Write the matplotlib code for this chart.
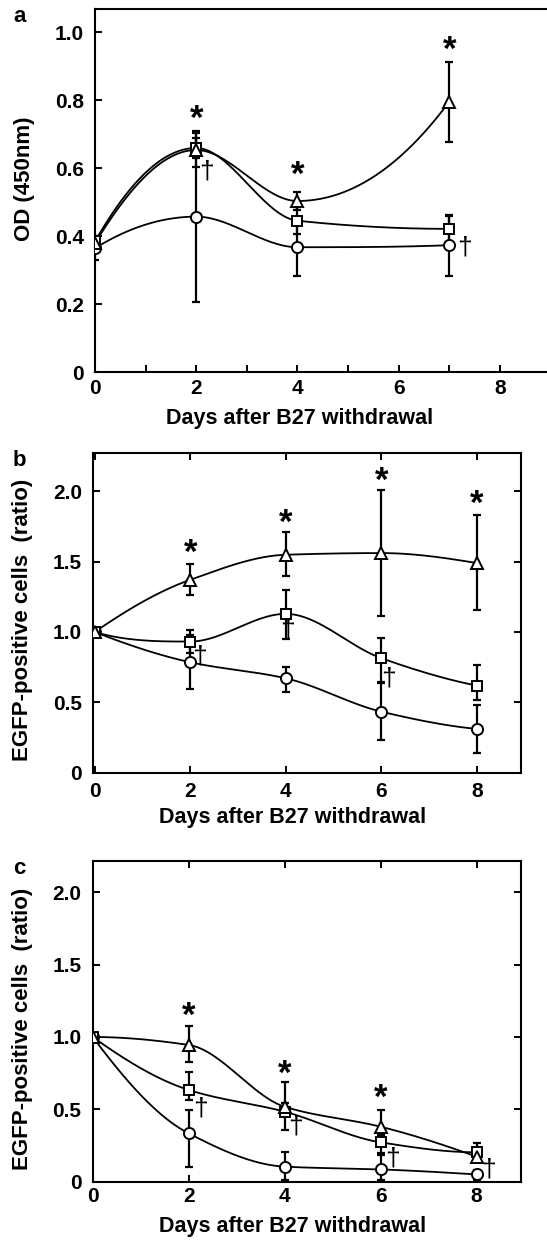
import numpy as np
import matplotlib
matplotlib.use("Agg")
import matplotlib.pyplot as plt
from matplotlib.ticker import FixedLocator

plt.rcParams['font.family'] = ['Liberation Sans', 'DejaVu Sans']
plt.rcParams['font.weight'] = 'bold'

# ---------------- data ----------------
# Panel a: OD (450nm)
a_days = [0, 2, 4, 7]
a_circle = [0.365, 0.458, 0.368, 0.374]
a_circle_lo = [0.035, 0.252, 0.084, 0.090]
a_circle_hi = [0.035, 0.252, 0.084, 0.090]
a_square = [0.385, 0.660, 0.446, 0.422]
a_square_lo = [0.015, 0.030, 0.040, 0.038]
a_square_hi = [0.015, 0.030, 0.040, 0.038]
a_tri = [0.380, 0.654, 0.504, 0.796]
a_tri_lo = [0.015, 0.049, 0.027, 0.118]
a_tri_hi = [0.015, 0.049, 0.027, 0.116]
a_star_x = [2, 4, 7]
a_star_y = [0.745, 0.578, 0.948]
a_dag_x = [2.21, 7.31]
a_dag_y = [0.590, 0.368]

# Panel b: EGFP-positive cells (ratio)
b_days = [0, 2, 4, 6, 8]
b_circle = [1.0, 0.785, 0.671, 0.434, 0.311]
b_circle_lo = [0.0, 0.192, 0.094, 0.202, 0.173]
b_circle_hi = [0.0, 0.192, 0.083, 0.202, 0.173]
b_square = [1.0, 0.932, 1.129, 0.814, 0.619]
b_square_lo = [0.0, 0.083, 0.178, 0.166, 0.102]
b_square_hi = [0.0, 0.083, 0.171, 0.140, 0.147]
b_tri = [1.0, 1.371, 1.549, 1.561, 1.490]
b_tri_lo = [0.0, 0.111, 0.154, 0.446, 0.337]
b_tri_hi = [0.0, 0.112, 0.159, 0.451, 0.344]
b_star_x = [2, 4, 6, 8]
b_star_y = [1.556, 1.775, 2.070, 1.905]
b_dag_x = [2.19, 4.03, 6.16]
b_dag_y = [0.826, 1.015, 0.671]

# Panel c: EGFP-positive cells (ratio)
c_days = [0, 2, 4, 6, 8]
c_circle = [1.0, 0.334, 0.104, 0.085, 0.050]
c_circle_lo = [0.0, 0.230, 0.090, 0.070, 0.040]
c_circle_hi = [0.0, 0.162, 0.103, 0.100, 0.030]
c_square = [1.0, 0.634, 0.484, 0.272, 0.203]
c_square_lo = [0.0, 0.069, 0.127, 0.076, 0.030]
c_square_hi = [0.0, 0.126, 0.060, 0.050, 0.062]
c_tri = [1.0, 0.945, 0.518, 0.380, 0.173]
c_tri_lo = [0.0, 0.115, 0.060, 0.050, 0.030]
c_tri_hi = [0.0, 0.131, 0.172, 0.115, 0.030]
c_star_x = [2, 4, 6]
c_star_y = [1.140, 0.742, 0.576]
c_dag_x = [2.24, 4.22, 6.24, 8.25]
c_dag_y = [0.507, 0.380, 0.161, 0.081]

x_label = "Days after B27 withdrawal"
a_ylabel = "OD (450nm)"
bc_ylabel = "EGFP-positive cells  (ratio)"


def pchip_curve(x, y, n=300):
    """Monotone piecewise cubic Hermite (Fritsch-Carlson) through the points."""
    x = np.asarray(x, float)
    y = np.asarray(y, float)
    h = np.diff(x)
    delta = np.diff(y) / h
    k = len(x)
    d = np.zeros(k)
    for i in range(1, k - 1):
        if delta[i - 1] * delta[i] <= 0:
            d[i] = 0.0
        else:
            w1 = 2 * h[i] + h[i - 1]
            w2 = h[i] + 2 * h[i - 1]
            d[i] = (w1 + w2) / (w1 / delta[i - 1] + w2 / delta[i])

    def end(h0, h1, m0, m1):
        dd = ((2 * h0 + h1) * m0 - h0 * m1) / (h0 + h1)
        if np.sign(dd) != np.sign(m0):
            dd = 0.0
        elif np.sign(m0) != np.sign(m1) and abs(dd) > abs(3 * m0):
            dd = 3 * m0
        return dd

    d[0] = end(h[0], h[1], delta[0], delta[1])
    d[-1] = end(h[-1], h[-2], delta[-1], delta[-2])
    xs = np.linspace(x[0], x[-1], n)
    idx = np.clip(np.searchsorted(x, xs) - 1, 0, k - 2)
    t = (xs - x[idx]) / h[idx]
    h00 = 2 * t ** 3 - 3 * t ** 2 + 1
    h10 = t ** 3 - 2 * t ** 2 + t
    h01 = -2 * t ** 3 + 3 * t ** 2
    h11 = t ** 3 - t ** 2
    ys = h00 * y[idx] + h10 * h[idx] * d[idx] + h01 * y[idx + 1] + h11 * h[idx] * d[idx + 1]
    return xs, ys


W, H = 547, 1242
fig = plt.figure(figsize=(W / 100, H / 100), dpi=100)


def add_axes(left, right, top, bottom):
    return fig.add_axes([left / W, 1 - bottom / H, (right - left) / W, (bottom - top) / H])


def draw_series(ax, x, y, lo, hi, marker, ms):
    xs, ys = pchip_curve(x, y)
    ax.plot(xs, ys, color='black', lw=1.3, zorder=2, solid_capstyle='butt')
    ax.errorbar(x, y, yerr=[lo, hi], fmt='none', ecolor='black', elinewidth=1.6,
                capsize=2.8, capthick=1.6, zorder=2)
    ax.plot(x, y, linestyle='none', marker=marker, ms=ms, mfc='white', mec='black',
            mew=1.4, zorder=3)


def annotate(ax, sx, sy, dx, dy):
    for xx, yy in zip(sx, sy):
        ax.text(xx, yy, '*', ha='center', va='center', fontsize=25, fontweight='bold', zorder=4)
    for xx, yy in zip(dx, dy):
        ax.text(xx, yy, '\u2020', ha='center', va='center', fontsize=19, fontweight='normal', zorder=4)


def style(ax):
    for s in ax.spines.values():
        s.set_linewidth(1.5)


TICK_FS = 15
XLAB_FS = 15.5
YLAB_FS = 16

# ---------------- panel a ----------------
ax = add_axes(95, 95 + 9 * 50.6, 9.3, 372.3)
ax.set_xlim(0, 9)
ax.set_ylim(0, 1.068)
style(ax)
draw_series(ax, a_days, a_circle, a_circle_lo, a_circle_hi, 'o', 8)
draw_series(ax, a_days, a_square, a_square_lo, a_square_hi, 's', 7.5)
draw_series(ax, a_days, a_tri, a_tri_lo, a_tri_hi, '^', 9)
annotate(ax, a_star_x, a_star_y, a_dag_x, a_dag_y)
ax.xaxis.set_major_locator(FixedLocator([0, 2, 4, 6, 8]))
ax.xaxis.set_minor_locator(FixedLocator([1, 3, 5, 7]))
ax.set_xticklabels(['0', '2', '4', '6', '8'])
ax.set_yticks([0, 0.2, 0.4, 0.6, 0.8, 1.0])
ax.set_yticklabels(['0', '0.2', '0.4', '0.6', '0.8', '1.0'])
ax.tick_params(which='both', direction='in', length=5, width=1.4, top=False, right=False,
               labelsize=TICK_FS)
ax.tick_params(axis='x', which='major', pad=5)
ax.tick_params(axis='y', which='major', pad=8)
ax.set_xlabel(x_label, fontsize=XLAB_FS, fontweight='bold')
ax.set_ylabel(a_ylabel, fontsize=YLAB_FS, fontweight='bold')
ax.xaxis.set_label_coords((300 - 95) / (9 * 50.6), (372.3 - 408) / 363)
ax.yaxis.set_label_coords((35 - 95) / (9 * 50.6), (372.3 - 178.5) / 363)
fig.text(13 / W, 1 - 17 / H, 'a', fontsize=16, fontweight='bold', va='center', ha='left')


# ---------------- panels b, c ----------------
def panel_bc(box, xlim, ylim, series, stars, letter, letter_y, xlab_y, ylab_c, xpad):
    left, right, top, bottom = box
    ax = add_axes(left, right, top, bottom)
    ax.set_xlim(*xlim)
    ax.set_ylim(*ylim)
    style(ax)
    for (x, y, lo, hi, m, ms) in series:
        draw_series(ax, x, y, lo, hi, m, ms)
    annotate(ax, *stars)
    ax.set_xticks([0, 2, 4, 6, 8])
    ax.set_xticklabels(['0', '2', '4', '6', '8'])
    ax.set_yticks([0, 0.5, 1.0, 1.5, 2.0])
    ax.set_yticklabels(['0', '0.5', '1.0', '1.5', '2.0'])
    ax.tick_params(which='both', direction='in', length=5, width=1.4, top=True, right=True,
                   labelsize=TICK_FS)
    ax.tick_params(axis='x', pad=xpad)
    ax.tick_params(axis='y', pad=8)
    ax.set_xlabel(x_label, fontsize=XLAB_FS, fontweight='bold')
    ax.set_ylabel(bc_ylabel, fontsize=YLAB_FS, fontweight='bold')
    w = right - left
    h = bottom - top
    ax.xaxis.set_label_coords((292.5 - left) / w, (bottom - xlab_y) / h)
    ax.yaxis.set_label_coords((ylab_c[0] - left) / w, (bottom - ylab_c[1]) / h)
    fig.text(13 / W, 1 - letter_y / H, letter, fontsize=16, fontweight='bold', va='center', ha='left')
    return ax


panel_bc((93.3, 520.7, 453.3, 772.7), (-0.03, 8.92), (0, 2.27),
         [(b_days, b_circle, b_circle_lo, b_circle_hi, 'o', 8),
          (b_days, b_square, b_square_lo, b_square_hi, 's', 7.5),
          (b_days, b_tri, b_tri_lo, b_tri_hi, '^', 9)],
         (b_star_x, b_star_y, b_dag_x, b_dag_y), 'b', 460, 807, (33, 620), 7)

panel_bc((92.7, 520.7, 861, 1181.7), (0, 8.92), (0, 2.216),
         [(c_days, c_circle, c_circle_lo, c_circle_hi, 'o', 8),
          (c_days, c_square, c_square_lo, c_square_hi, 's', 7.5),
          (c_days, c_tri, c_tri_lo, c_tri_hi, '^', 9)],
         (c_star_x, c_star_y, c_dag_x, c_dag_y), 'c', 869, 1216, (33, 1029), 4)

fig.savefig('out.png', dpi=100)
